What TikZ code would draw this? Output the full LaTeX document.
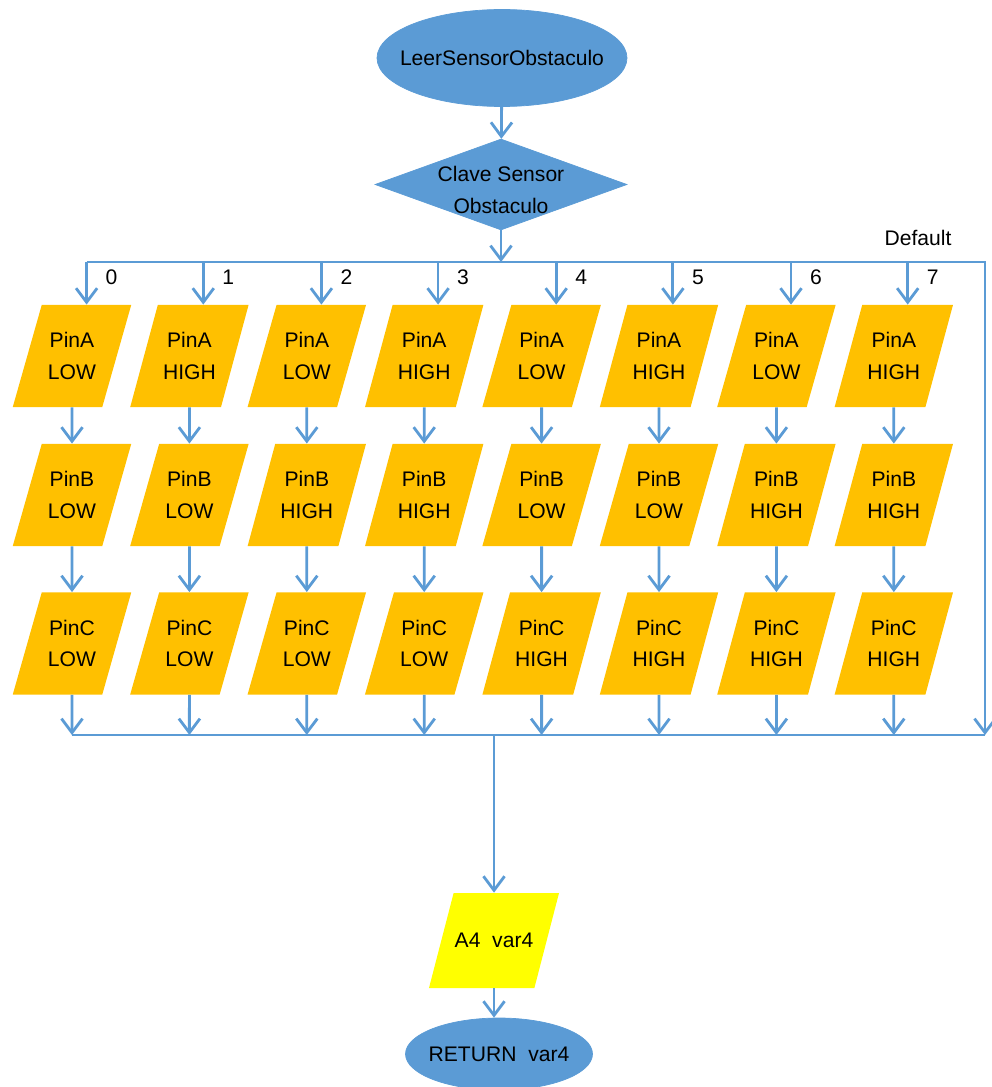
\documentclass[tikz,border=0pt]{standalone}
\usepackage{fontspec}
\setmainfont{Liberation Sans}
\usetikzlibrary{shapes.geometric,arrows.meta}

\definecolor{flowblue}{RGB}{91,155,213}
\definecolor{pinorange}{RGB}{255,192,0}
\definecolor{outyellow}{RGB}{255,255,0}

\tikzset{
  terminal/.style={ellipse, fill=flowblue, draw=flowblue, inner ysep=0pt},
  decision/.style={diamond, fill=flowblue, draw=flowblue, inner sep=0pt,
    minimum width=5.04cm, minimum height=1.82cm},
  pinbox/.style={trapezium, trapezium left angle=77.3, trapezium right angle=102.7,
    trapezium stretches=true, fill=pinorange, inner xsep=0pt, inner ysep=0.55cm,
    align=center, minimum width=2.38cm, minimum height=2.04cm},
  outbox/.style={trapezium, trapezium left angle=75.8, trapezium right angle=104.2,
    trapezium stretches=true, fill=outyellow, inner xsep=0pt, inner ysep=0.8cm,
    minimum width=2.62cm, minimum height=1.9cm},
  line/.style={flowblue, line width=1.6pt},
  flow/.style={line, -{Straight Barb[length=8pt,width=12pt]}}
}

\begin{document}
\begin{tikzpicture}[font=\fontsize{12}{18}\selectfont]
    \useasboundingbox (0,0) rectangle (19.84,-21.74);

    % Entry and case switch
    \node[terminal, inner xsep=-0.3cm, minimum width=5cm, minimum height=1.94cm] (start) at (10.04,-1.16) {LeerSensorObstaculo};
    \node[decision] (clave) at (10.02,-3.69) {};
    \node[align=center] (claveTxt) at (10.02,-3.8) {Clave Sensor\\Obstaculo};
    \draw[flow] (start) -- (clave);

    % Bus lines
    \coordinate (busTop) at (0,-5.24);
    \coordinate (busBot) at (0,-14.7);
    \coordinate (dflt) at (19.7,-5.24);
    \coordinate (dfltEnd) at (19.7,-14.7);

    % One column per case: PinA, PinB, PinC
    \foreach \i/\a/\b/\c in {0/LOW/LOW/LOW, 1/HIGH/LOW/LOW, 2/LOW/HIGH/LOW, 3/HIGH/HIGH/LOW,
                             4/LOW/LOW/HIGH, 5/HIGH/LOW/HIGH, 6/LOW/HIGH/HIGH, 7/HIGH/HIGH/HIGH} {
        \node[pinbox] (pa\i) at ({1.44+2.348*\i},-7.12) {PinA\\\a};
        \node[pinbox] (pb\i) at ({1.44+2.348*\i},-9.9) {PinB\\\b};
        \node[pinbox] (pc\i) at ({1.44+2.348*\i},-12.87) {PinC\\\c};
        \draw[flow] (pa\i.top side |- busTop) -- node[pos=0.36, xshift=0.5cm, text=black] (case\i) {\i} (pa\i.top side);
        \draw[flow] (pa\i) -- (pb\i);
        \draw[flow] (pb\i) -- (pc\i);
        \draw[flow] (pc\i) -- (pc\i |- busBot);
    }

    \draw[flow] (clave) -- (clave |- busTop);
    \draw[flow] (pa0.top side |- busTop) -- (dflt) -- (dfltEnd);
    \node (dfltTxt) at (18.36,-4.76) {Default};
    \draw[line] (pc0 |- busBot) -- (dfltEnd);

    % Output and return
    \node[outbox] (var) at (9.88,-18.81) {A4~~var4};
    \node[terminal, inner xsep=-0.15cm, minimum width=3.74cm, minimum height=1.44cm] (ret) at (9.98,-21.08) {RETURN~~var4};
    \draw[flow] (var.north |- busBot) -- (var.north);
    \draw[flow] (var.south) -- (var.south |- ret.north);
\end{tikzpicture}
\end{document}
